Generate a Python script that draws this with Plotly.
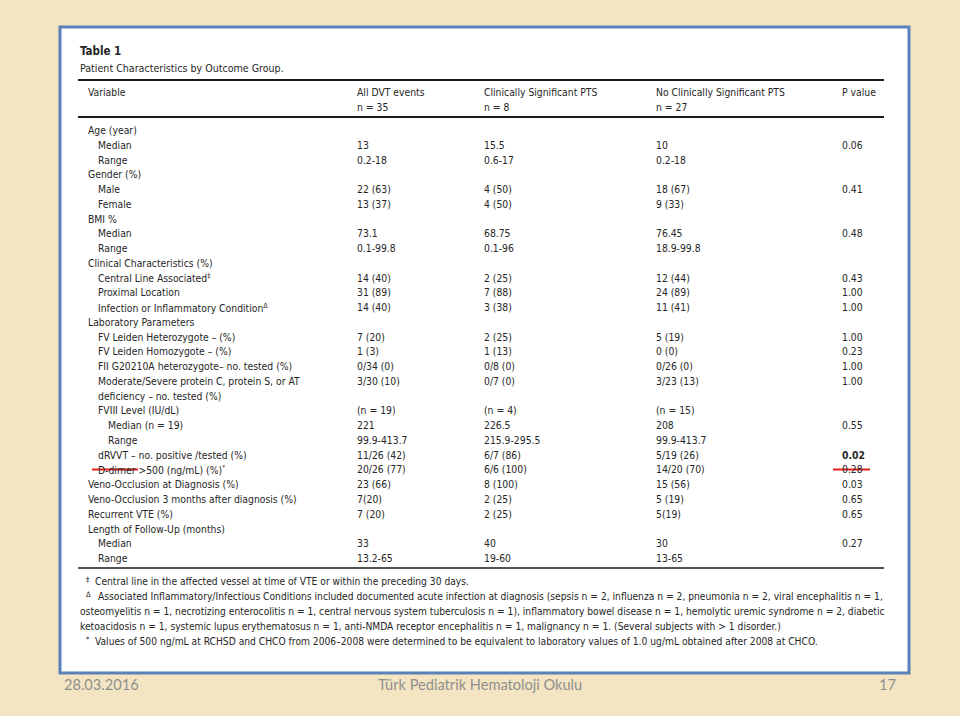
import plotly.graph_objects as go

# ---------------- data ----------------
table_title = "Table 1"
table_subtitle = "Patient Characteristics by Outcome Group."

col_headers = ["Variable", "All DVT events", "Clinically Significant PTS",
               "No Clinically Significant PTS", "P value"]
col_n = ["", "n = 35", "n = 8", "n = 27", ""]

variables = [
    "Age (year)", "Median", "Range",
    "Gender (%)", "Male", "Female",
    "BMI %", "Median", "Range",
    "Clinical Characteristics (%)",
    "Central Line Associated<sup>‡</sup>",
    "Proximal Location",
    "Infection or Inflammatory Condition<sup>Δ</sup>",
    "Laboratory Parameters",
    "FV Leiden Heterozygote – (%)",
    "FV Leiden Homozygote – (%)",
    "FII G20210A heterozygote– no. tested (%)",
    "Moderate/Severe protein C, protein S, or AT",
    "deficiency – no. tested (%)",
    "FVIII Level (IU/dL)",
    "Median (n = 19)",
    "Range",
    "dRVVT – no. positive /tested (%)",
    "D-dimer >500 (ng/mL) (%)<sup>*</sup>",
    "Veno-Occlusion at Diagnosis (%)",
    "Veno-Occlusion 3 months after diagnosis (%)",
    "Recurrent VTE (%)",
    "Length of Follow-Up (months)",
    "Median", "Range",
]
indent = [0, 1, 1, 0, 1, 1, 0, 1, 1, 0, 1, 1, 1, 0, 1, 1, 1, 1, 1, 1, 2, 2, 1, 1,
          0, 0, 0, 0, 1, 1]

all_dvt = ["", "13", "0.2-18", "", "22 (63)", "13 (37)", "", "73.1", "0.1-99.8", "",
           "14 (40)", "31 (89)", "14 (40)", "", "7 (20)", "1 (3)", "0/34 (0)",
           "3/30 (10)", "", "(n = 19)", "221", "99.9-413.7", "11/26 (42)",
           "20/26 (77)", "23 (66)", "7(20)", "7 (20)", "", "33", "13.2-65"]
cs_pts = ["", "15.5", "0.6-17", "", "4 (50)", "4 (50)", "", "68.75", "0.1-96", "",
          "2 (25)", "7 (88)", "3 (38)", "", "2 (25)", "1 (13)", "0/8 (0)",
          "0/7 (0)", "", "(n = 4)", "226.5", "215.9-295.5", "6/7 (86)",
          "6/6 (100)", "8 (100)", "2 (25)", "2 (25)", "", "40", "19-60"]
no_cs_pts = ["", "10", "0.2-18", "", "18 (67)", "9 (33)", "", "76.45", "18.9-99.8", "",
             "12 (44)", "24 (89)", "11 (41)", "", "5 (19)", "0 (0)", "0/26 (0)",
             "3/23 (13)", "", "(n = 15)", "208", "99.9-413.7", "5/19 (26)",
             "14/20 (70)", "15 (56)", "5 (19)", "5(19)", "", "30", "13-65"]
p_values = ["", "0.06", "", "", "0.41", "", "", "0.48", "", "",
            "0.43", "1.00", "1.00", "", "1.00", "0.23", "1.00",
            "1.00", "", "", "0.55", "", "0.02",
            "0.28", "0.03", "0.65", "0.65", "", "0.27", ""]
p_bold = ["0.02"]
struck_rows = ["D-dimer >500 (ng/mL) (%)<sup>*</sup>"]

footnotes = [
    ("‡", "Central line in the affected vessel at time of VTE or within the preceding 30 days."),
    ("Δ", "Associated Inflammatory/Infectious Conditions included documented acute infection at diagnosis (sepsis n = 2, influenza n = 2, pneumonia n = 2, viral encephalitis n = 1,"),
    ("", "osteomyelitis n = 1, necrotizing enterocolitis n = 1, central nervous system tuberculosis n = 1), inflammatory bowel disease n = 1, hemolytic uremic syndrome n = 2, diabetic"),
    ("", "ketoacidosis n = 1, systemic lupus erythematosus n = 1, anti-NMDA receptor encephalitis n = 1, malignancy n = 1. (Several subjects with > 1 disorder.)"),
    ("*", "Values of 500 ng/mL at RCHSD and CHCO from 2006–2008 were determined to be equivalent to laboratory values of 1.0 ug/mL obtained after 2008 at CHCO."),
]

slide_date = "28.03.2016"
slide_center = "Türk Pediatrik Hematoloji Okulu"
slide_number = "17"

# ---------------- layout constants ----------------
W, H = 960, 716
FONT = "Liberation Sans Narrow, DejaVu Sans Condensed, Arial Narrow, sans-serif"
FOOT_FONT = "Lato, Open Sans, sans-serif"
TXT = "#262626"
FS = 10.3
col_x = [86, 355, 482, 654, 840]
row_y0, row_step = 130, 14.76
indent_px = 10

ann = []
def add(x, y, text, size=FS, color=TXT, anchor="left", family=FONT):
    ann.append(dict(x=x, y=y, xref="x", yref="y", text=text, showarrow=False,
                    xanchor=anchor, yanchor="middle",
                    font=dict(family=family, size=size, color=color)))

add(78, 51, "<b>" + table_title + "</b>", size=11.5)
add(78, 68, table_subtitle, size=10.6)
for i, h in enumerate(col_headers):
    add(col_x[i], 92, h)
    if col_n[i]:
        add(col_x[i], 107, col_n[i])

for i, v in enumerate(variables):
    y = row_y0 + i * row_step
    add(col_x[0] + indent[i] * indent_px, y, v)
    for c, arr in zip(col_x[1:4], (all_dvt, cs_pts, no_cs_pts)):
        if arr[i]:
            add(c, y, arr[i])
    if p_values[i]:
        t = f"<b>{p_values[i]}</b>" if p_values[i] in p_bold else p_values[i]
        add(col_x[4], y, t)

fy0, fstep = 581, 15.2
for i, (sym, txt) in enumerate(footnotes):
    y = fy0 + i * fstep
    if sym:
        add(84, y - 2, sym, size=7.5)
        add(93 if sym != "Δ" else 96, y, txt, size=10.2)
    else:
        add(78, y, txt, size=10.2)

FCOL = "#8f8f8f"
add(62, 684, slide_date, size=14.6, color=FCOL, family=FOOT_FONT)
add(480, 684, slide_center, size=14.6, color=FCOL, anchor="center", family=FOOT_FONT)
add(898, 684, slide_number, size=14.6, color=FCOL, anchor="right", family=FOOT_FONT)

shapes = [
    dict(type="rect", xref="x", yref="y", x0=60, x1=909, y0=27, y1=673,
         fillcolor="white", line=dict(color="#5a82b8", width=3), layer="below"),
    dict(type="line", xref="x", yref="y", x0=78, x1=884, y0=80, y1=80,
         line=dict(color="#1a1a1a", width=2)),
    dict(type="line", xref="x", yref="y", x0=78, x1=884, y0=117, y1=117,
         line=dict(color="#1a1a1a", width=2)),
    dict(type="line", xref="x", yref="y", x0=78, x1=884, y0=568, y1=568,
         line=dict(color="#1a1a1a", width=1.5)),
]
# red strike-through marks
for r in struck_rows:
    i = variables.index(r)
    y = row_y0 + i * row_step
    shapes.append(dict(type="line", xref="x", yref="y", x0=92, x1=138, y0=y, y1=y,
                       line=dict(color="#e3211c", width=2)))
    shapes.append(dict(type="line", xref="x", yref="y", x0=833, x1=870, y0=y, y1=y,
                       line=dict(color="#e3211c", width=2)))

fig = go.Figure()
fig.add_trace(go.Scatter(x=[0, W], y=[0, H], mode="markers",
                         marker=dict(opacity=0), hoverinfo="skip", showlegend=False))
fig.update_layout(
    width=W, height=H, margin=dict(l=0, r=0, t=0, b=0),
    paper_bgcolor="#f4e5c2", plot_bgcolor="#f4e5c2",
    xaxis=dict(range=[0, W], visible=False, fixedrange=True),
    yaxis=dict(range=[H, 0], visible=False, fixedrange=True),
    annotations=ann, shapes=shapes, showlegend=False,
)
fig.write_html("out.html", config={"displayModeBar": False},
               post_script="document.body.style.margin='0';document.body.style.background='#f4e5c2';")
